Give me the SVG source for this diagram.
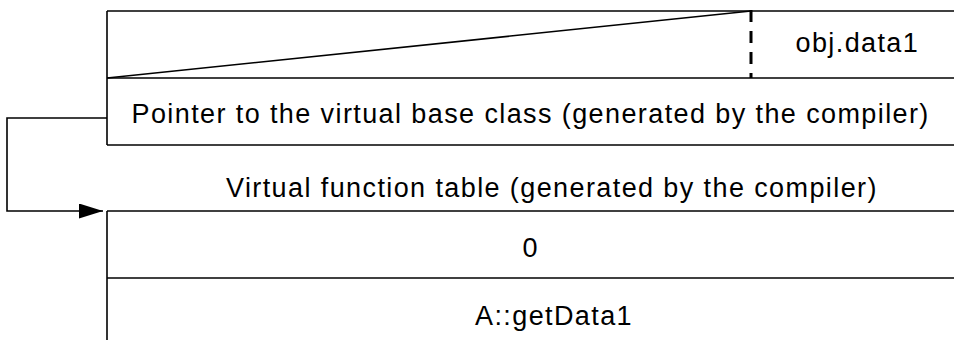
<svg xmlns="http://www.w3.org/2000/svg" width="954" height="340" viewBox="0 0 954 340">
  <style>
    .ln { stroke: #000; stroke-width: 1.6; fill: none; }
    .dash { stroke: #000; stroke-width: 3; fill: none; stroke-dasharray: 12 9; }
    .t { font-family: "Liberation Sans", Arial, sans-serif; font-size: 27px; letter-spacing: 1.4px; fill: #000; }
  </style>
  <defs>
    <marker id="arrow" markerUnits="userSpaceOnUse" markerWidth="24" markerHeight="15" refX="24" refY="7.5" orient="auto">
      <path d="M0,0 L24,7.5 L0,15 Z" fill="#000"/>
    </marker>
  </defs>
  <rect width="954" height="340" fill="#fff"/>
  <g id="object">
    <line class="ln" x1="107" y1="11" x2="954" y2="11"/>
    <line class="ln" x1="107" y1="11" x2="107" y2="145"/>
    <line class="ln" x1="107" y1="78" x2="954" y2="78"/>
    <line class="ln" x1="107" y1="145" x2="954" y2="145"/>
    <line class="ln" x1="107" y1="78" x2="751" y2="11"/>
    <line class="dash" x1="751" y1="10" x2="751" y2="78"/>
    <text class="t" x="795.5" y="51.7">obj.data1</text>
    <text class="t" x="131.5" y="122.5">Pointer to the virtual base class (generated by the compiler)</text>
  </g>
  <g id="vtable">
    <text class="t" x="226" y="196.7">Virtual function table (generated by the compiler)</text>
    <line class="ln" x1="107" y1="211" x2="954" y2="211"/>
    <line class="ln" x1="107" y1="211" x2="107" y2="340"/>
    <line class="ln" x1="107" y1="278" x2="954" y2="278"/>
    <text class="t" x="530.7" y="257" text-anchor="middle">0</text>
    <text class="t" x="475" y="325">A::getData1</text>
  </g>
  <g id="connectors">
    <polyline class="ln" points="107,118 7,118 7,211 103,211" marker-end="url(#arrow)"/>
  </g>
</svg>
